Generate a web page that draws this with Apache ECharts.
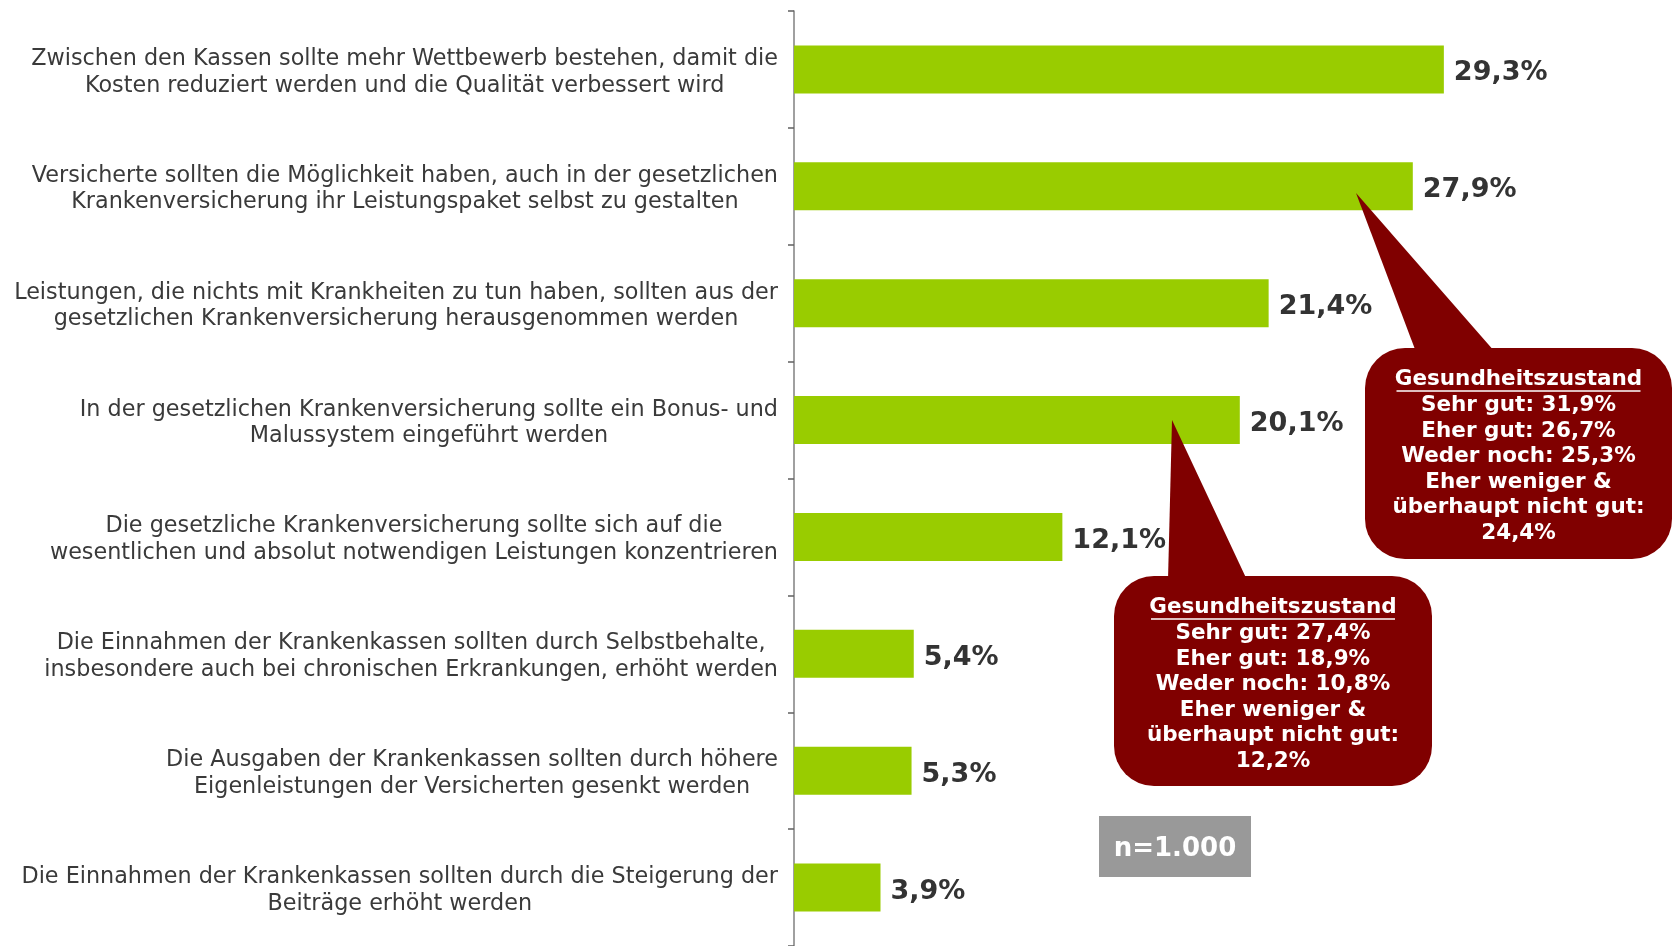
<!DOCTYPE html>
<html>
<head>
<meta charset="utf-8">
<script src="https://cdn.jsdelivr.net/npm/echarts@6.0.0/dist/echarts.min.js"></script>
<style>
  html, body { margin: 0; padding: 0; background: #fff; }
  #chart { width: 1672px; height: 946px; }
</style>
</head>
<body>
<div id="chart"></div>
<script>
// survey statements (two lines each, as on the slide)
const categories = [
  "Zwischen den Kassen sollte mehr Wettbewerb bestehen, damit die\nKosten reduziert werden und die Qualität verbessert wird",
  "Versicherte sollten die Möglichkeit haben, auch in der gesetzlichen\nKrankenversicherung ihr Leistungspaket selbst zu gestalten",
  "Leistungen, die nichts mit Krankheiten zu tun haben, sollten aus der\ngesetzlichen Krankenversicherung herausgenommen werden",
  "In der gesetzlichen Krankenversicherung sollte ein Bonus- und\nMalussystem eingeführt werden",
  "Die gesetzliche Krankenversicherung sollte sich auf die\nwesentlichen und absolut notwendigen Leistungen konzentrieren",
  "Die Einnahmen der Krankenkassen sollten durch Selbstbehalte,\ninsbesondere auch bei chronischen Erkrankungen, erhöht werden",
  "Die Ausgaben der Krankenkassen sollten durch höhere\nEigenleistungen der Versicherten gesenkt werden",
  "Die Einnahmen der Krankenkassen sollten durch die Steigerung der\nBeiträge erhöht werden"
];
const values = [29.3, 27.9, 21.4, 20.1, 12.1, 5.4, 5.3, 3.9];

// callout texts
const calloutTitle = "Gesundheitszustand";
const calloutBonus = ["Sehr gut: 31,9%", "Eher gut: 26,7%", "Weder noch: 25,3%", "Eher weniger &", "überhaupt nicht gut:", "24,4%"];
const calloutSelf = ["Sehr gut: 27,4%", "Eher gut: 18,9%", "Weder noch: 10,8%", "Eher weniger &", "überhaupt nicht gut:", "12,2%"];
const sampleNote = "n=1.000";

const FONT = '"DejaVu Sans", Verdana, sans-serif';
const RED = "#800000";

const chart = echarts.init(document.getElementById("chart"));

function callout(tip, baseL, baseR, box, lines) {
  const cx = box.x + box.width / 2;
  const top = box.y + 19;
  return [
    { type: "polygon", z: 100, shape: { points: [tip, baseL, baseR] }, style: { fill: RED } },
    { type: "rect", z: 100, shape: { x: box.x, y: box.y, width: box.width, height: box.height, r: 40 }, style: { fill: RED } },
    {
      type: "text", z: 101, x: cx, y: top,
      style: {
        text: [calloutTitle].concat(lines).join("\n"),
        fill: "#fff", font: "bold 21.5px " + FONT,
        textAlign: "center", textVerticalAlign: "top", lineHeight: 25.6
      }
    },
    { type: "line", z: 101, shape: { x1: cx - 122, y1: top + 24, x2: cx + 122, y2: top + 24 }, style: { stroke: "#fff", lineWidth: 1.5 } }
  ];
}

chart.setOption({
  animation: false,
  grid: { left: 794, width: 865, top: 11, height: 938 },
  xAxis: { type: "value", min: 0, max: 39, show: false },
  yAxis: {
    type: "category",
    data: categories,
    inverse: true,
    axisLine: { show: true, lineStyle: { color: "#808080", width: 1.5 } },
    axisTick: { show: true, inside: false, length: 6, lineStyle: { color: "#606060", width: 1.5 } },
    axisLabel: {
      margin: 16,
      padding: [6, 0, 0, 0],
      formatter: v => v.split("\n").map(l => "{c|" + l + "}").join("\n"),
      rich: {
        c: { align: "center", fontFamily: FONT, fontSize: 22.3, lineHeight: 26.7, color: "#3a3a3a" }
      }
    }
  },
  series: [
    {
      type: "bar",
      data: values,
      barWidth: 48,
      itemStyle: { color: "#99CC00" },
      label: {
        show: true,
        position: "right",
        distance: 10,
        offset: [0, 4],
        fontFamily: FONT,
        fontSize: 27,
        fontWeight: "bold",
        color: "#333",
        formatter: p => p.value.toFixed(1).replace(".", ",") + "%"
      }
    }
  ],
  graphic: [].concat(
    callout([1356, 193], [1416, 352], [1495, 352], { x: 1365, y: 348, width: 307, height: 211 }, calloutBonus),
    callout([1172, 420], [1168, 580], [1247, 580], { x: 1114, y: 576, width: 318, height: 210 }, calloutSelf),
    [
      { type: "rect", z: 100, shape: { x: 1099, y: 816, width: 152, height: 61 }, style: { fill: "#999999" } },
      {
        type: "text", z: 101, x: 1175, y: 849,
        style: { text: sampleNote, fill: "#fff", font: "bold 26px " + FONT, textAlign: "center", textVerticalAlign: "middle" }
      }
    ]
  )
});
</script>
</body>
</html>
